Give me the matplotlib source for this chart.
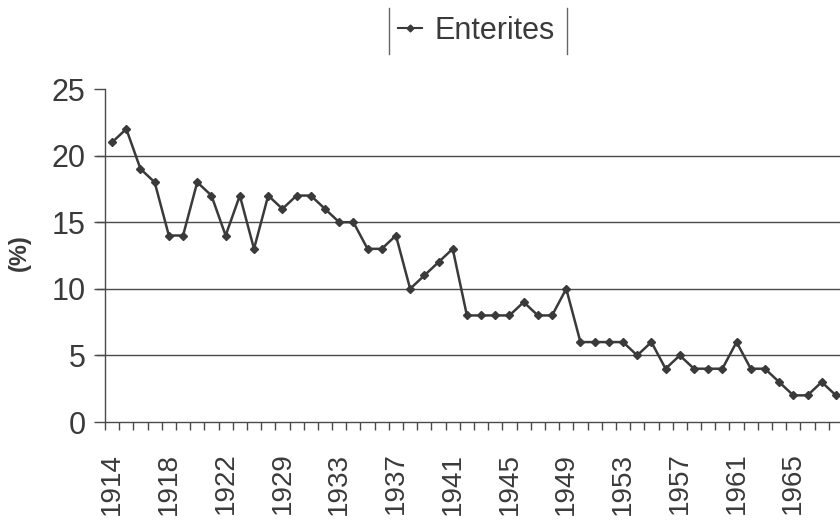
import matplotlib
matplotlib.use("Agg")
import matplotlib.pyplot as plt
from matplotlib.lines import Line2D

plt.rcParams['font.family'] = ['Liberation Sans', 'DejaVu Sans']

years = [1914, 1915, 1916, 1917, 1918, 1919, 1920, 1921, 1922,
         1926, 1927, 1928,
         1929, 1930, 1931, 1932, 1933, 1934, 1935, 1936, 1937, 1938, 1939, 1940,
         1941, 1942, 1943, 1944, 1945, 1946, 1947, 1948, 1949, 1950, 1951, 1952,
         1953, 1954, 1955, 1956, 1957, 1958, 1959, 1960, 1961, 1962, 1963, 1964,
         1965, 1966, 1967, 1968]
enterites = [21, 22, 19, 18, 14, 14, 18, 17, 14,
             17, 13, 17,
             16, 17, 17, 16, 15, 15, 13, 13, 14, 10, 11, 12,
             13, 8, 8, 8, 8, 9, 8, 8, 10, 6, 6, 6,
             6, 5, 6, 4, 5, 4, 4, 4, 6, 4, 4, 3,
             2, 2, 3, 2]
yticks = [0, 5, 10, 15, 20, 25]

txt = '#3a3a3a'
linec = '#3a3a3a'

fig = plt.figure(figsize=(8.4, 5.21), dpi=100)
ax = fig.add_axes([105/840, 99/521, (843-105)/840, (422-89)/521])

x = list(range(len(years)))
ax.plot(x, enterites, color=linec, lw=1.8, marker='D', ms=4.2,
        mfc=linec, mec=linec, label='Enterites', zorder=3)

ax.set_xlim(-0.5, len(years) - 0.5)
ax.set_ylim(0, 25)

ax.set_yticks(yticks)
ax.set_yticklabels([str(v) for v in yticks], fontsize=22, color=txt)
for v in yticks[1:-1]:
    ax.axhline(v, color='#4a4a4a', lw=1.0, zorder=1)
    ax.plot([-0.5 - 8/14.2, -0.5], [v, v], color='#4a4a4a', lw=1.0, clip_on=False)
ax.tick_params(axis='y', length=8, width=1.0, color='#4a4a4a', pad=6)

ax.set_xticks([i - 0.5 for i in range(len(years) + 1)], minor=True)
ax.set_xticks(x[::4])
ax.set_xticklabels([str(years[i]) for i in x[::4]], rotation=90,
                   fontsize=20, color=txt, va='top', ha='center')
ax.tick_params(axis='x', which='major', length=0, pad=22)
ax.tick_params(axis='x', which='minor', length=6, width=1.0, color='#4a4a4a',
               direction='out')

for s in ['top', 'right']:
    ax.spines[s].set_visible(False)
ax.spines['left'].set_color('#4a4a4a')
ax.spines['bottom'].set_color('#4a4a4a')
ax.spines['left'].set_linewidth(1.0)
ax.spines['bottom'].set_linewidth(1.0)

fig.text(19/840, 1 - 253/521, '(%)', rotation=90, fontsize=17,
         fontweight='bold', color=txt, ha='center', va='center')

leg = fig.legend(handles=[Line2D([], [], color=linec, lw=1.5, marker='D',
                                 ms=3.5, mfc=linec, mec=linec)],
                 labels=['Enterites'], loc='center',
                 bbox_to_anchor=(476/840, 1 - 31/521), frameon=False,
                 fontsize=22, handlelength=0.8, handletextpad=0.4,
                 labelcolor=txt)
for xp in [389, 567]:
    fig.add_artist(Line2D([xp/840, xp/840], [1 - 8/521, 1 - 54/521],
                          color='#666666', lw=1.0, transform=fig.transFigure))

fig.savefig('out.png', dpi=100)
